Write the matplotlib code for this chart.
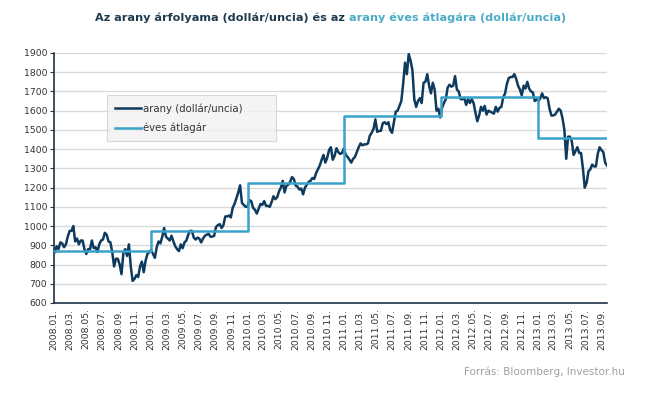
import pandas as pd
import matplotlib
matplotlib.use("Agg")
import matplotlib.pyplot as plt

NAVY  = "#0e3a5d"
LIGHT = "#38a2ca"
TITLE_BLUE = "#4bacc6"
GRID  = "#d9d9d9"

# weekly gold price (USD/oz), Friday values
gold_2008 = [865, 895, 880, 915,
             910, 890, 905, 945, 975,
             975, 1000, 920, 935,
             905, 925, 925, 880,
             855, 880, 880, 925, 885,
             890, 865, 905, 925,
             930, 965, 955, 920,
             915, 865, 790, 830, 830,
             800, 750, 860, 880,
             845, 905, 790, 715, 725,
             745, 735, 790, 815,
             760, 820, 855, 865]
gold_2009 = [875, 855, 835, 890, 920,
             910, 945, 990, 945,
             935, 925, 950, 920,
             895, 880, 870, 905,
             885, 915, 925, 955, 975,
             975, 940, 930, 940,
             935, 915, 935, 950, 955,
             960, 945, 945, 950,
             995, 1005, 1010, 990,
             1005, 1050, 1050, 1055, 1045,
             1095, 1115, 1145, 1175,
             1212, 1120, 1110, 1100]
gold_2010 = [1100, 1135, 1130, 1095, 1085,
             1065, 1090, 1115, 1110,
             1130, 1105, 1105, 1100,
             1125, 1155, 1140, 1150, 1180,
             1200, 1235, 1175, 1210,
             1215, 1230, 1255, 1245,
             1210, 1205, 1190, 1195, 1165,
             1200, 1215, 1230, 1235,
             1250, 1245, 1275, 1295,
             1315, 1345, 1370, 1330, 1355,
             1395, 1410, 1345, 1365,
             1405, 1385, 1375, 1380, 1405]
gold_2011 = [1370, 1360, 1345, 1330,
             1350, 1360, 1385, 1410,
             1430, 1420, 1425, 1425,
             1430, 1470, 1485, 1505, 1555,
             1490, 1495, 1495, 1535,
             1540, 1530, 1540, 1500,
             1485, 1540, 1595, 1600, 1625,
             1650, 1740, 1850, 1790,
             1895, 1860, 1810, 1660, 1620,
             1650, 1665, 1640, 1745,
             1750, 1790, 1730, 1690,
             1745, 1710, 1600, 1610, 1565]
gold_2012 = [1615, 1640, 1660, 1720,
             1735, 1725, 1730, 1780,
             1710, 1700, 1660, 1660, 1665,
             1630, 1660, 1640, 1660,
             1640, 1590, 1545, 1575,
             1620, 1600, 1625, 1580, 1600,
             1595, 1590, 1585, 1620,
             1595, 1615, 1620, 1670, 1690,
             1740, 1770, 1775, 1775,
             1790, 1765, 1730, 1710,
             1680, 1730, 1715, 1750, 1715,
             1700, 1695, 1650, 1660]
gold_2013 = [1650, 1665, 1690, 1665,
             1670, 1665, 1610, 1575,
             1575, 1580, 1595, 1610, 1600,
             1560, 1500, 1350, 1465,
             1465, 1440, 1370, 1390, 1410,
             1380, 1380, 1300, 1200,
             1225, 1285, 1295, 1320,
             1310, 1310, 1375, 1410, 1395,
             1385, 1330, 1315]

years     = [2008, 2009, 2010, 2011, 2012, 2013]
year_avg  = [872, 972, 1225, 1572, 1669, 1458]
yearly    = [gold_2008, gold_2009, gold_2010, gold_2011, gold_2012, gold_2013]

tick_dates = pd.date_range("2008-01-01", "2013-09-01", freq="2MS")
tick_labels = [f"{d.year}.{d.month:02d}." for d in tick_dates]


# ── series ────────────────────────────────────────────────────
parts = []
for yr, vals in zip(years, yearly):
    idx = pd.date_range(f"{yr}-01-01", periods=len(vals), freq="W-FRI")
    parts.append(pd.Series(vals, index=idx))
gold = pd.concat(parts)

x_end = gold.index[-1]
step_x = [pd.Timestamp(f"{yr}-01-01") for yr in years] + [x_end]
step_y = year_avg + [year_avg[-1]]


# ── plot ──────────────────────────────────────────────────────
fig = plt.figure(figsize=(6.45, 3.98), dpi=100)
ax = fig.add_axes([54/645, 1 - 303/398, 553/645, 250/398])

ax.plot(gold.index, gold.values, color=NAVY, lw=1.8, label="arany (dollár/uncia)", zorder=3)
ax.step(step_x, step_y, where="post", color=LIGHT, lw=1.8, label="éves átlagár", zorder=4)

ax.set_ylim(600, 1900)
ax.set_yticks(range(600, 2000, 100))
ax.set_xlim(pd.Timestamp("2008-01-01"), x_end)
ax.set_xticks(tick_dates)
ax.set_xticklabels(tick_labels, rotation=90)

ax.grid(axis="y", color=GRID, lw=1)
ax.set_axisbelow(True)
for s in ["top", "right"]:
    ax.spines[s].set_visible(False)
for s in ["left", "bottom"]:
    ax.spines[s].set_color("#1d3347")
    ax.spines[s].set_linewidth(1.2)

ax.tick_params(axis="y", labelsize=6.7, colors="#333333", length=3, width=0.8, pad=2)
ax.tick_params(axis="x", labelsize=6.7, colors="#333333", length=0, pad=4)

leg = ax.legend(loc="upper left", bbox_to_anchor=(0.096, 0.832, 0.305, 0.0),
                mode="expand", fontsize=7.3, frameon=True, fancybox=False,
                handlelength=2.5, handletextpad=0.2, labelspacing=0.9,
                borderpad=0.8, borderaxespad=0, labelcolor="#333333")
leg.get_frame().set_facecolor("#f2f2f2")
leg.get_frame().set_edgecolor("#d0d0d0")
leg.get_frame().set_linewidth(0.8)

# two-coloured title
t1 = fig.text(95/645, 1 - 18/398, "Az arany árfolyama (dollár/uncia) és az ",
              color="#1f3a4f", fontsize=8.1, fontweight="bold", va="center", ha="left")
fig.canvas.draw()
bb = t1.get_window_extent()
fig.text(bb.x1 / fig.bbox.width, 1 - 18/398, "arany éves átlagára (dollár/uncia)",
         color=TITLE_BLUE, fontsize=8.1, fontweight="bold", va="center", ha="left")

fig.text(625/645, 1 - 372/398, "Forrás: Bloomberg, Investor.hu",
         color="#a0a0a0", fontsize=7.5, ha="right", va="center")

fig.savefig("out.png", dpi=100)
